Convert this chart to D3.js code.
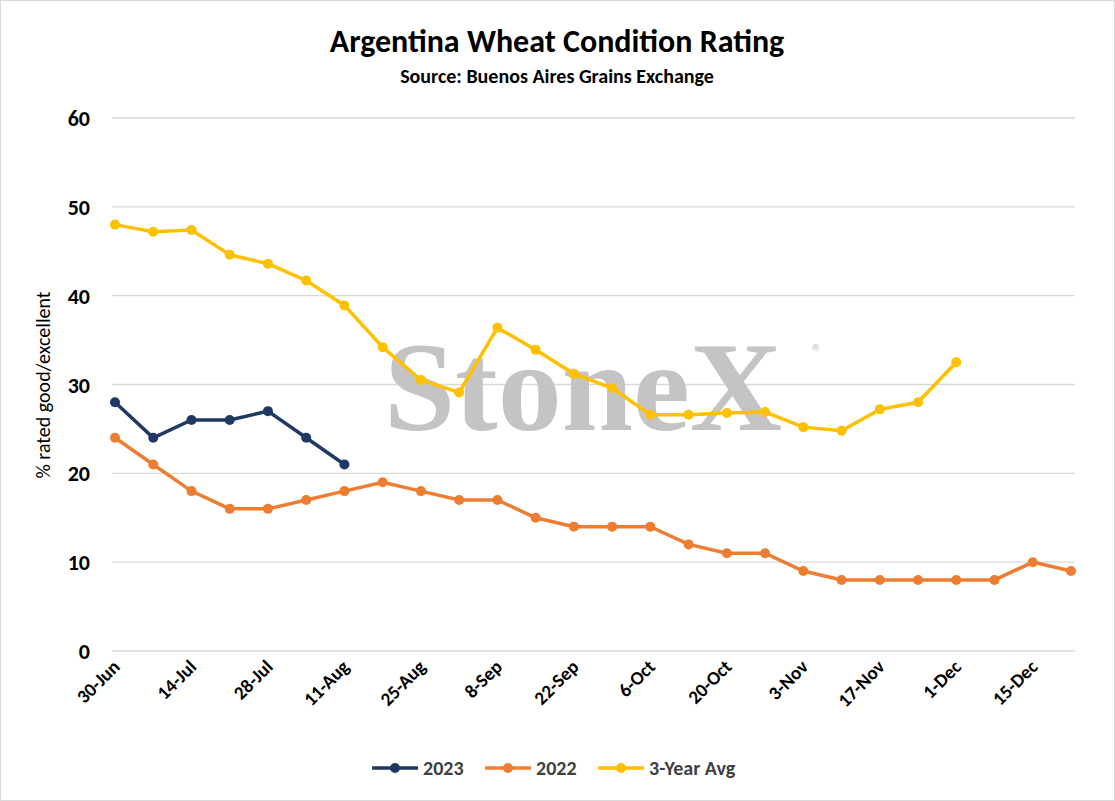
<!DOCTYPE html>
<html><head><meta charset="utf-8">
<script src="https://cdn.jsdelivr.net/npm/d3@7"></script>
<style>body{margin:0;background:#fff}text{font-family:Carlito,Lato,"Liberation Sans",Arial,sans-serif}</style>
</head><body><svg id="c" width="1115" height="801"></svg>
<script>
const categories=["30-Jun","7-Jul","14-Jul","21-Jul","28-Jul","4-Aug","11-Aug","18-Aug","25-Aug","1-Sep","8-Sep","15-Sep","22-Sep","29-Sep","6-Oct","13-Oct","20-Oct","27-Oct","3-Nov","10-Nov","17-Nov","24-Nov","1-Dec","8-Dec","15-Dec","22-Dec"];
const tickLabels=["30-Jun","14-Jul","28-Jul","11-Aug","25-Aug","8-Sep","22-Sep","6-Oct","20-Oct","3-Nov","17-Nov","1-Dec","15-Dec"];
const yTicks=[0,10,20,30,40,50,60];
const s2023=[28,24,26,26,27,24,21];
const s2022=[24,21,18,16,16,17,18,19,18,17,17,15,14,14,14,12,11,11,9,8,8,8,8,8,10,9];
const sAvg=[48,47.2,47.4,44.6,43.6,41.7,38.9,34.2,30.5,29.1,36.4,33.9,31.2,29.6,26.6,26.6,26.8,26.9,25.2,24.8,27.2,28,32.5];
const series=[{name:"2023",color:"#1f3864",data:s2023},{name:"2022",color:"#ed7d31",data:s2022},{name:"3-Year Avg",color:"#ffc000",data:sAvg}];

const svg=d3.select("#c");
svg.append("rect").attr("x",0.5).attr("y",0.5).attr("width",1114).attr("height",800).attr("fill","#fff").attr("stroke","#d9d9d9");
const x=d3.scalePoint().domain(categories).range([115,1071]);
const y=d3.scaleLinear().domain([0,60]).range([651,118]);
svg.append("g").selectAll("line").data(yTicks).join("line")
 .attr("x1",112).attr("x2",1075).attr("y1",d=>y(d)).attr("y2",d=>y(d)).attr("stroke","#d9d9d9").attr("stroke-width",1.3);
svg.append("text").attr("x",583).attr("y",430).attr("text-anchor","middle").style("font-family","'Liberation Serif','DejaVu Serif',serif").attr("font-weight","bold").attr("font-size",128).attr("fill","#c4c4c4").text("StoneX");
svg.append("text").attr("x",817).attr("y",360).attr("text-anchor","middle").attr("font-size",22).attr("fill","#c4c4c4").text("®");
svg.append("g").selectAll("text").data(yTicks).join("text")
 .attr("x",90).attr("y",d=>y(d)+8).attr("text-anchor","end").attr("font-size",22).attr("font-weight","bold").text(d=>d);
svg.append("g").selectAll("text").data(tickLabels).join("text")
 .attr("transform",d=>`translate(${x(d)+6},${668}) rotate(-45)`).attr("text-anchor","end")
 .attr("font-size",19).attr("font-weight","bold").text(d=>d);
svg.append("text").attr("transform","translate(50,385) rotate(-90)").attr("text-anchor","middle").attr("font-size",20).text("% rated good/excellent");
svg.append("text").attr("x",557).attr("y",52).attr("text-anchor","middle").attr("font-size",32).attr("font-weight","bold").text("Argentina Wheat Condition Rating");
svg.append("text").attr("x",557).attr("y",83).attr("text-anchor","middle").attr("font-size",20).attr("font-weight","bold").text("Source: Buenos Aires Grains Exchange");
const line=d3.line().x((d,i)=>x(categories[i])).y(d=>y(d));
series.slice().reverse().forEach(s=>{
 const g=svg.append("g");
 g.append("path").attr("d",line(s.data)).attr("fill","none").attr("stroke",s.color).attr("stroke-width",3.5);
 g.selectAll("circle").data(s.data).join("circle").attr("cx",(d,i)=>x(categories[i])).attr("cy",d=>y(d)).attr("r",5).attr("fill",s.color);
});
const lx=[372,485,598];
series.forEach((s,i)=>{
 const g=svg.append("g").attr("transform",`translate(${lx[i]},768)`);
 g.append("line").attr("x1",0).attr("x2",46).attr("stroke",s.color).attr("stroke-width",3.5);
 g.append("circle").attr("cx",23).attr("r",5).attr("fill",s.color);
 g.append("text").attr("x",51).attr("y",7).attr("font-size",20).attr("font-weight","bold").attr("fill","#404040").text(s.name);
});
</script></body></html>
